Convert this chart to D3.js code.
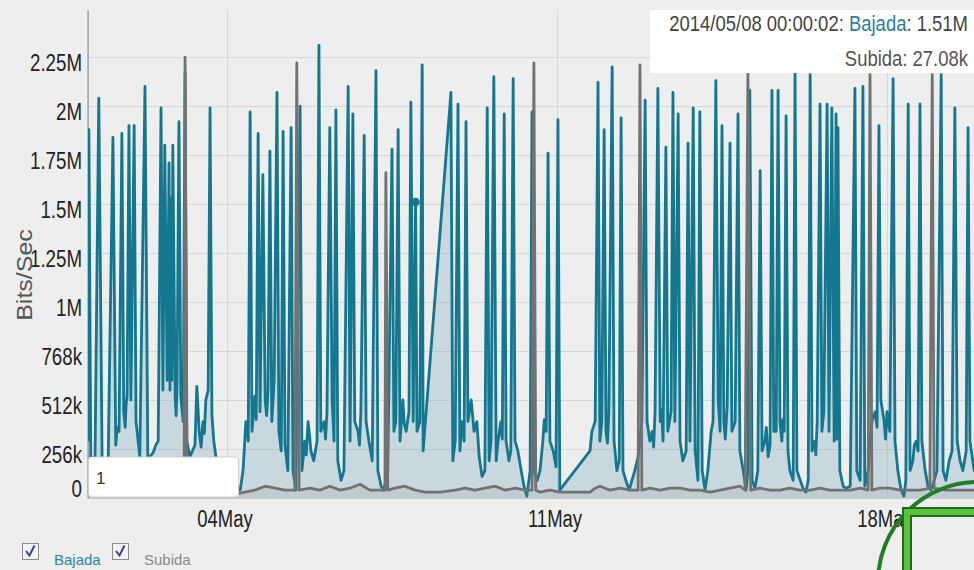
<!DOCTYPE html>
<html>
<head>
<meta charset="utf-8">
<script src="https://cdn.jsdelivr.net/npm/d3@7"></script>
<style>
  body { margin: 0; background: #eeeeee; overflow: hidden; }
  svg { display: block; }
  text { font-family: "Liberation Sans", Arial, sans-serif; }
</style>
</head>
<body>
<svg id="chart" width="974" height="570"></svg>
<script>
// Bajada (download), [days since 2014-05-01 00:00, Mbit/s]
const bajada = [
  [0.05,0.29],[0.07,1.88],[0.11,0.21],[0.20,0.20],[0.28,2.04],[0.35,0.20],[0.48,0.20],[0.58,1.84],[0.64,0.27],[0.67,0.36],[0.71,0.34],
  [0.77,1.86],[0.81,0.44],[0.84,0.36],[0.86,0.48],[0.88,0.52],[0.92,1.90],[0.96,0.50],[1.03,1.90],[1.07,0.39],[1.11,0.30],[1.15,0.21],[1.26,2.10],[1.32,0.20],
  [1.43,0.23],[1.49,0.27],[1.54,0.29],[1.60,1.99],[1.64,0.55],[1.68,1.80],[1.73,0.60],[1.77,1.71],[1.79,0.55],[1.81,1.53],
  [1.83,0.60],[1.85,1.80],[1.90,0.52],[1.92,0.42],[1.94,0.57],[1.98,1.92],[2.02,0.52],[2.07,0.39],[2.11,2.17],[2.15,0.29],[2.21,0.21],
  [2.32,0.27],[2.36,0.57],[2.41,0.34],[2.45,0.26],[2.49,0.39],[2.52,0.33],[2.55,0.50],[2.60,0.55],[2.64,1.99],[2.68,0.42],[2.72,0.29],[2.77,0.20],
  [2.85,0.04],[3.23,0.04],[3.28,0.04],[3.34,0.14],[3.40,0.39],[3.45,0.29],[3.49,1.97],[3.53,0.34],[3.59,0.52],[3.62,0.40],[3.66,1.86],
  [3.70,0.44],[3.76,1.65],[3.81,0.50],[3.84,0.42],[3.87,0.55],[3.91,1.77],[3.95,0.39],[4.00,0.60],[4.06,2.07],[4.10,0.34],[4.15,0.24],
  [4.19,1.87],[4.23,0.27],[4.29,0.14],[4.36,1.89],[4.40,0.14],[4.46,0.04],[4.55,2.00],[4.59,0.14],[4.65,0.29],[4.68,0.22],[4.72,0.39],
  [4.75,0.32],[4.78,0.24],[4.84,0.19],[4.91,0.29],[4.95,2.31],[4.99,0.34],[5.06,0.39],[5.09,0.30],[5.12,0.44],[5.18,1.89],[5.23,0.50],[5.27,0.29],
  [5.31,1.98],[5.35,0.19],[5.42,0.09],[5.48,0.14],[5.57,2.10],[5.61,0.29],[5.67,1.96],[5.71,0.39],[5.78,0.34],[5.81,0.27],[5.84,0.44],
  [5.91,1.85],[5.95,0.39],[6.01,0.29],[6.08,0.19],[6.16,2.18],[6.20,0.14],[6.27,0.06],[6.33,0.04],[6.41,0.14],[6.50,1.78],
  [6.54,0.34],[6.58,0.39],[6.63,1.88],[6.67,0.29],[6.73,0.50],[6.76,0.38],[6.80,0.34],[6.86,0.44],[6.90,2.02],[6.95,0.39],[7.00,1.51],
  [7.03,0.34],[7.09,0.39],[7.14,2.21],[7.16,0.24],[7.75,2.07],[7.79,0.19],[7.84,0.29],[7.90,2.01],[7.94,0.24],[7.98,0.39],
  [8.03,0.29],[8.07,1.92],[8.11,0.39],[8.18,0.50],[8.21,0.42],[8.24,0.34],[8.30,0.39],[8.35,0.21],[8.41,0.11],[8.47,0.14],[8.52,1.99],
  [8.56,0.19],[8.60,0.29],[8.66,2.15],[8.71,0.19],[8.75,0.29],[8.81,0.39],[8.84,0.30],[8.88,1.96],[8.92,0.29],[8.98,0.19],[9.02,0.24],
  [9.07,2.14],[9.11,0.29],[9.17,0.24],[9.24,0.14],[9.30,0.06],[9.36,0.01],[9.43,0.14],[9.47,1.97],[9.51,0.14],[9.58,0.09],
  [9.64,0.14],[9.70,0.29],[9.73,0.40],[9.77,0.34],[9.81,1.76],[9.85,0.29],[9.92,0.24],[9.98,0.16],[10.02,1.93],[10.06,0.04],[10.70,0.24],
  [10.74,0.34],[10.81,0.39],[10.87,2.12],[10.91,0.29],[10.95,0.39],[11.00,1.88],[11.04,0.34],[11.07,0.28],[11.10,0.44],[11.17,2.20],[11.21,0.29],
  [11.27,0.14],[11.32,0.19],[11.36,1.94],[11.40,0.14],[11.46,0.09],[11.53,0.04],[11.59,0.09],[11.65,0.14],[11.72,0.21],[11.80,0.39],
  [11.87,2.03],[11.91,0.39],[11.97,0.29],[12.02,0.34],[12.05,0.26],[12.08,0.44],[12.14,2.09],[12.19,0.39],[12.22,0.45],[12.25,0.29],[12.31,1.79],[12.35,0.34],
  [12.42,0.44],[12.46,2.07],[12.50,0.39],[12.57,1.96],[12.61,0.29],[12.67,0.19],[12.74,0.24],[12.78,1.81],[12.82,0.29],[12.89,1.99],
  [12.93,0.24],[12.99,0.09],[13.03,1.97],[13.08,0.14],[13.14,0.04],[13.20,0.14],[13.27,0.34],[13.31,0.39],[13.37,2.13],[13.42,0.50],
  [13.46,0.34],[13.50,1.90],[13.54,0.39],[13.57,0.30],[13.61,0.47],[13.67,1.81],[13.71,0.34],[13.78,0.39],[13.84,1.96],[13.88,0.24],[13.95,0.14],
  [14.01,0.04],[14.05,0.14],[14.09,2.08],[14.14,0.09],[14.20,0.05],[14.26,0.14],[14.31,1.67],[14.35,0.24],[14.41,0.29],[14.44,0.36],[14.48,0.21],
  [14.52,0.27],[14.56,2.08],[14.60,0.34],[14.65,0.34],[14.69,2.08],[14.73,0.39],[14.77,0.29],[14.79,0.40],[14.82,0.34],[14.86,1.95],[14.90,0.24],
  [14.94,0.14],[15.01,0.09],[15.05,2.18],[15.09,0.14],[15.16,0.09],[15.22,0.05],[15.28,0.03],[15.33,0.09],[15.37,2.16],[15.41,0.24],
  [15.47,0.29],[15.49,0.22],[15.52,0.39],[15.58,2.01],[15.62,0.34],[15.66,0.44],[15.73,2.01],[15.77,0.34],[15.83,1.99],[15.88,0.29],[15.92,1.96],
  [15.94,0.30],[15.96,1.89],[16.00,0.14],[16.07,0.06],[16.13,0.05],[16.22,0.06],[16.32,2.09],[16.36,0.14],[16.43,0.09],[16.49,2.10],
  [16.53,0.06],[16.60,0.14],[16.64,0.29],[16.68,0.39],[16.75,0.44],[16.79,0.36],[16.83,1.90],[16.87,0.50],[16.94,0.39],[16.97,0.30],[17.00,0.44],[17.06,0.34],
  [17.13,2.14],[17.17,0.29],[17.23,0.14],[17.30,0.04],[17.36,0.01],[17.40,0.09],[17.45,2.01],[17.49,0.14],[17.55,0.19],[17.58,0.27],[17.62,0.29],
  [17.66,0.24],[17.70,2.01],[17.74,0.29],[17.81,0.14],[17.87,0.06],[17.93,0.04],[18.00,0.09],[18.06,0.14],[18.15,2.16],[18.19,0.14],
  [18.25,0.09],[18.32,0.19],[18.38,0.24],[18.44,1.99],[18.49,0.29],[18.55,0.19],[18.61,0.14],[18.68,0.24],[18.72,1.89],[18.76,0.29],
  [18.85,0.14],[18.97,0.20]
];

// Subida (upload)
const subida = [
  [0.05,0.03],[0.31,0.03],[0.52,0.04],[0.73,0.05],[0.94,0.04],[1.15,0.03],[1.37,0.04],[1.58,0.05],[1.79,0.04],[2.00,0.04],
  [2.09,0.05],[2.11,2.25],[2.15,0.04],[2.32,0.03],[2.53,0.04],[2.74,0.03],[2.96,0.02],[3.17,0.02],[3.38,0.03],[3.59,0.04],
  [3.81,0.06],[4.02,0.05],[4.23,0.04],[4.44,0.04],[4.48,2.22],[4.53,0.04],[4.76,0.05],[4.97,0.04],[5.18,0.06],[5.40,0.04],
  [5.61,0.05],[5.82,0.07],[6.03,0.04],[6.25,0.04],[6.35,0.04],[6.37,1.66],[6.41,0.04],[6.56,0.05],[6.77,0.06],[6.99,0.04],
  [7.20,0.03],[7.52,0.03],[7.84,0.04],[8.05,0.05],[8.26,0.04],[8.47,0.05],[8.69,0.06],[8.90,0.04],[9.11,0.05],[9.32,0.04],
  [9.47,0.04],[9.51,2.22],[9.55,0.04],[9.64,0.03],[9.85,0.04],[10.06,0.03],[10.38,0.03],[10.70,0.03],[10.81,0.05],[10.91,0.06],
  [11.12,0.04],[11.34,0.05],[11.55,0.04],[11.72,0.04],[11.76,2.21],[11.80,0.04],[11.97,0.05],[12.19,0.04],[12.40,0.05],[12.61,0.05],
  [12.82,0.04],[13.03,0.04],[13.25,0.03],[13.46,0.04],[13.67,0.05],[13.88,0.06],[13.99,0.04],[14.05,2.17],[14.11,0.04],[14.31,0.05],
  [14.52,0.04],[14.73,0.04],[14.94,0.05],[15.16,0.04],[15.37,0.04],[15.58,0.05],[15.79,0.04],[16.00,0.04],[16.22,0.04],[16.43,0.05],
  [16.60,0.04],[16.64,2.16],[16.68,0.04],[16.85,0.05],[17.06,0.05],[17.28,0.04],[17.49,0.04],[17.70,0.04],[17.91,0.05],[17.96,2.16],
  [18.00,0.05],[18.23,0.04],[18.44,0.04],[18.65,0.04],[18.85,0.04],[18.97,0.04]
];

const yTicks = [0, 0.25, 0.5, 0.75, 1, 1.25, 1.5, 1.75, 2, 2.25];
const yLabels = ["0", "256k", "512k", "768k", "1M", "1.25M", "1.5M", "1.75M", "2M", "2.25M"];
const xTicks = [3, 10, 17]; // 04May, 11May, 18May
const xRange = [0.051, 18.846];
const hover = { day: 7.0, time: "2014/05/08 00:00:02", bajada: "1.51M", subida: "27.08k" };

const t0 = new Date(2014, 4, 1).getTime();
const toDate = d => new Date(t0 + d * 864e5);

const svg = d3.select("#chart");
const pLeft = 88, pRight = 974, pTop = 10, pBottom = 498;

const x = d3.scaleTime().domain(xRange.map(toDate)).range([pLeft, pRight]);
const y = d3.scaleLinear().domain([0, 2.49]).range([pBottom, pTop]);

// gridlines
const gy = svg.append("g").attr("transform", `translate(${pLeft},0)`)
  .call(d3.axisLeft(y).tickValues(yTicks).tickSize(-(pRight - pLeft)).tickFormat(""));
gy.select(".domain").remove();
gy.selectAll("line").attr("stroke", "#d7d7d7");

const gx = svg.append("g").attr("transform", `translate(0,${pBottom})`)
  .call(d3.axisBottom(x).tickValues(xTicks.map(toDate)).tickSize(-(pBottom - pTop)).tickFormat(""));
gx.select(".domain").attr("stroke", "#c8c8c8");
gx.selectAll("line").attr("stroke", "#d7d7d7");

svg.append("line").attr("x1", pLeft).attr("x2", pLeft).attr("y1", pTop).attr("y2", pBottom)
  .attr("stroke", "#9a9a9a").attr("stroke-width", 1.2);

svg.append("clipPath").attr("id", "clip").append("rect")
  .attr("x", pLeft).attr("y", pTop).attr("width", pRight - pLeft).attr("height", pBottom - pTop);

const plot = svg.append("g").attr("clip-path", "url(#clip)");

const area = d3.area().x(d => x(toDate(d[0]))).y0(y(0)).y1(d => y(d[1]));
const line = d3.line().x(d => x(toDate(d[0]))).y(d => y(d[1]));

plot.append("path").datum(bajada).attr("d", area).attr("fill", "rgba(105,160,182,0.27)");
plot.append("path").datum(bajada).attr("d", line).attr("fill", "none")
  .attr("stroke", "#13778f").attr("stroke-width", 2.8).attr("stroke-linejoin", "round");
plot.append("path").datum(subida).attr("d", area).attr("fill", "rgba(120,120,120,0.12)");
plot.append("path").datum(subida).attr("d", line).attr("fill", "none")
  .attr("stroke", "#727272").attr("stroke-width", 2.8).attr("stroke-linejoin", "round");

// hovered point
const hv = bajada.find(d => d[0] === hover.day);
plot.append("circle").attr("cx", x(toDate(hv[0]))).attr("cy", y(hv[1])).attr("r", 4.2).attr("fill", "#13778f");

// y tick labels
svg.append("g").selectAll("text").data(yTicks).join("text")
  .attr("transform", (d, i) => `translate(82,${i === 0 ? 497 : y(d) + 14}) scale(0.78,1)`)
  .attr("text-anchor", "end").attr("font-size", 24).attr("fill", "#222")
  .text((d, i) => yLabels[i]);

// x tick labels
svg.append("g").selectAll("text").data(xTicks).join("text")
  .attr("transform", d => `translate(${x(toDate(d)) - 2},527) scale(0.77,1)`)
  .attr("text-anchor", "middle").attr("font-size", 24).attr("fill", "#222")
  .text(d => d3.timeFormat("%d%b")(toDate(d)));

// axis title
svg.append("text").attr("transform", "translate(32,275) rotate(-90) scale(1,0.88)")
  .attr("text-anchor", "middle").attr("font-size", 25).attr("fill", "#555").text("Bits/Sec");

// range box bottom-left
svg.append("rect").attr("x", 88.5).attr("y", 457).attr("width", 150).attr("height", 40)
  .attr("rx", 3).attr("fill", "#fff").attr("stroke", "#cfcfcf");
svg.append("text").attr("x", 96).attr("y", 484).attr("font-size", 17).attr("fill", "#333").text("1");

// hover legend
svg.append("rect").attr("x", 650).attr("y", 10).attr("width", 330).attr("height", 63).attr("fill", "#fff");
const t1 = svg.append("text").attr("transform", "translate(968,31) scale(0.84,1)")
  .attr("text-anchor", "end").attr("font-size", 22).attr("fill", "#444");
t1.append("tspan").text(hover.time + ": ");
t1.append("tspan").attr("fill", "#2b7f96").text("Bajada");
t1.append("tspan").text(": " + hover.bajada);
svg.append("text").attr("transform", "translate(968,66) scale(0.84,1)")
  .attr("text-anchor", "end").attr("font-size", 22).attr("fill", "#555")
  .text("Subida: " + hover.subida);

// series toggles
const series = [{ name: "Bajada", color: "#2b86a0", x: 22 }, { name: "Subida", color: "#8a8a8a", x: 112 }];
const lg = svg.append("g").selectAll("g").data(series).join("g")
  .attr("transform", d => `translate(${d.x},543)`);
lg.append("rect").attr("x", 0.5).attr("y", 0.5).attr("width", 16).attr("height", 16)
  .attr("fill", "#f3f3f6").attr("stroke", "#8c8c8c");
lg.append("path").attr("d", "M4,8 L7.5,12.5 L12.5,2.5").attr("fill", "none")
  .attr("stroke", "#2b45a8").attr("stroke-width", 2);
lg.append("text").attr("x", 32).attr("y", 22).attr("font-size", 15).attr("fill", d => d.color)
  .text(d => d.name);

// green annotation mark
svg.append("circle").attr("cx", 978).attr("cy", 582).attr("r", 100)
  .attr("fill", "none").attr("stroke", "#1f7f25").attr("stroke-width", 4);
svg.append("path").attr("d", "M903,508 L980,508 L980,516 L911,516 L911,575 L903,575 Z")
  .attr("fill", "#5cc23c").attr("stroke", "#1e6b1e").attr("stroke-width", 2);
</script>
</body>
</html>
